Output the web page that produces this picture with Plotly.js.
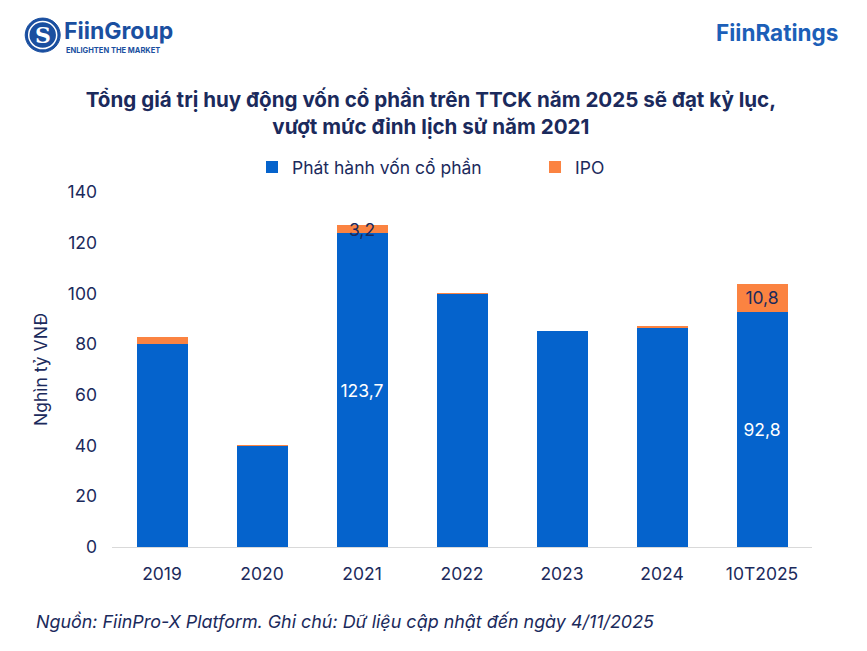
<!DOCTYPE html>
<html>
<head>
<meta charset="utf-8">
<script src="https://cdn.plot.ly/plotly-3.0.1.min.js"></script>
<style>html,body{margin:0;padding:0;background:#fff;}#chart{width:867px;height:651px;}</style>
</head>
<body>
<div id="chart"></div>
<script>
const categories = ['2019', '2020', '2021', '2022', '2023', '2024', '10T2025'];
const equityIssuance = [80.0, 39.9, 123.7, 99.7, 85.0, 86.3, 92.8];
const ipo = [2.9, 0.4, 3.2, 0.6, 0.2, 0.9, 10.8];
const showEquityLabel = [false, false, true, false, false, false, true];
const showIpoLabel = [false, false, true, false, false, false, true];
const yTicks = [0, 20, 40, 60, 80, 100, 120, 140];

const fmt = v => v.toFixed(1).replace('.', ',');
const navy = '#1b2a5c';
const FONT = 'Inter, "Noto Sans", sans-serif';

const traces = [
  {
    type: 'bar', name: 'Phát hành vốn cổ phần', x: categories, y: equityIssuance,
    marker: {color: '#0563CC'}, legend: 'legend',
    text: equityIssuance.map((v, i) => showEquityLabel[i] ? fmt(v) : ''),
    textposition: 'inside', insidetextanchor: 'middle',
    textfont: {color: '#ffffff', size: 17.5, family: FONT},
    hoverinfo: 'none'
  },
  {
    type: 'bar', name: 'IPO', x: categories, y: ipo,
    marker: {color: '#FB8341'}, legend: 'legend2',
    text: ipo.map((v, i) => showIpoLabel[i] ? fmt(v) : ''),
    textposition: 'inside', insidetextanchor: 'middle', constraintext: 'none',
    textfont: {color: navy, size: 17.5, family: FONT},
    cliponaxis: false,
    hoverinfo: 'none'
  }
];

const legendBase = {orientation: 'h', xanchor: 'left', y: 1.07, yanchor: 'middle',
                    font: {size: 17.5, color: navy, family: FONT}, bgcolor: 'rgba(0,0,0,0)'};

const layout = {
  width: 867, height: 651,
  margin: {l: 112, r: 55, t: 192, b: 104},
  paper_bgcolor: '#ffffff', plot_bgcolor: '#ffffff',
  font: {family: FONT, color: navy, size: 17.5},
  barmode: 'stack', bargap: 0.49,
  separators: ',.',
  uniformtext: {mode: false},
  showlegend: true,
  legend: Object.assign({}, legendBase, {x: 0.2, itemwidth: 30}),
  legend2: Object.assign({}, legendBase, {x: 0.6043, itemwidth: 30}),
  xaxis: {type: 'category', showline: true, linecolor: '#d9d9d9', linewidth: 1,
          ticks: '', tickfont: {size: 17.5, color: navy}, ticklabelstandoff: 11, fixedrange: true},
  yaxis: {range: [0, 140], tickvals: yTicks, showgrid: false, zeroline: false, showline: false,
          ticks: '', tickfont: {size: 17.5, color: navy}, ticklabelstandoff: 14,
          title: {text: 'Nghìn tỷ VNĐ', font: {size: 17.5, color: navy}, standoff: 15}},
  title: {text: '<b>Tổng giá trị huy động vốn cổ phần trên TTCK năm 2025 sẽ đạt kỷ lục,<br>vượt mức đỉnh lịch sử năm 2021</b>',
          x: 0.497, xanchor: 'center', y: 0.836, yanchor: 'middle',
          font: {size: 20.6, color: navy, family: FONT}},
  shapes: [
    {type: 'circle', xref: 'paper', yref: 'paper', x0: -0.124, x1: -0.074, y0: 1.394, y1: 1.49,
     fillcolor: '#1a4fa0', line: {color: '#1a4fa0', width: 1}},
    {type: 'circle', xref: 'paper', yref: 'paper', x0: -0.119, x1: -0.079, y0: 1.404, y1: 1.48,
     fillcolor: 'rgba(0,0,0,0)', line: {color: '#ffffff', width: 1.5}}
  ],
  annotations: [
    {xref: 'paper', yref: 'paper', x: -0.099, y: 1.442, text: '<b>S</b>', showarrow: false,
     font: {family: 'DejaVu Serif, serif', size: 22, color: '#ffffff'}, xanchor: 'center', yanchor: 'middle'},
    {xref: 'paper', yref: 'paper', x: -0.072, y: 1.4545, text: '<b>FiinGroup</b>', showarrow: false,
     font: {family: FONT, size: 23, color: '#1a4fa0'}, xanchor: 'left', yanchor: 'middle'},
    {xref: 'paper', yref: 'paper', x: -0.069, y: 1.3985, text: '<b>ENLIGHTEN THE MARKET</b>', showarrow: false,
     font: {family: FONT, size: 7.5, color: '#1a4fa0'}, xanchor: 'left', yanchor: 'middle'},
    {xref: 'paper', yref: 'paper', x: 1.04, y: 1.448, text: '<b>FiinRatings</b>', showarrow: false,
     font: {family: FONT, size: 22.5, color: '#1c5fb8'}, xanchor: 'right', yanchor: 'middle'},
    {xref: 'paper', yref: 'paper', x: -0.112, y: -0.21, text: '<i>Nguồn: FiinPro-X Platform. Ghi chú: Dữ liệu cập nhật đến ngày 4/11/2025</i>',
     showarrow: false, font: {family: FONT, size: 17.9, color: navy}, xanchor: 'left', yanchor: 'middle'}
  ]
};

Plotly.newPlot('chart', traces, layout, {displayModeBar: false, staticPlot: true});
</script>
</body>
</html>
